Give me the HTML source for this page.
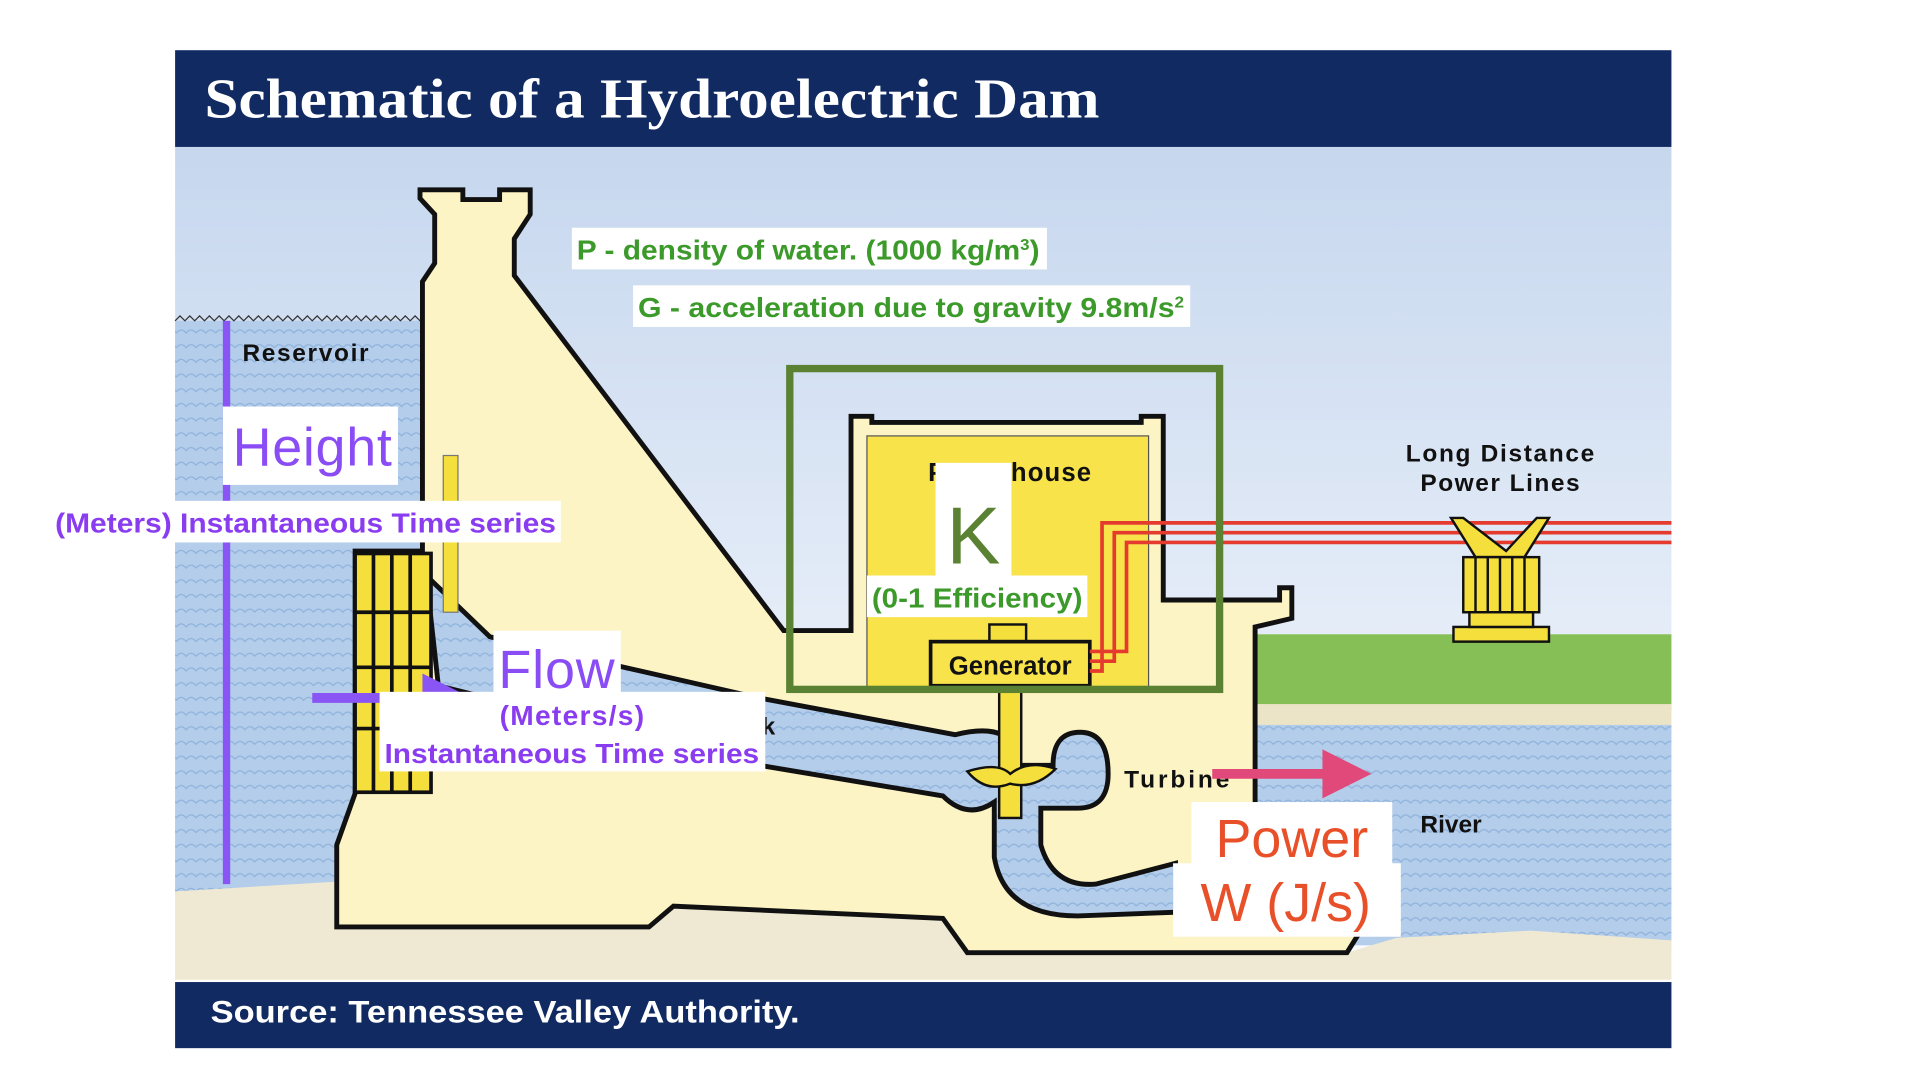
<!DOCTYPE html>
<html><head><meta charset="utf-8"><style>
html,body{margin:0;padding:0;background:#fff;width:1920px;height:1080px;overflow:hidden}
svg{display:block}
.g{font-family:"Liberation Sans",sans-serif;font-weight:bold}
</style></head><body>
<svg width="1920" height="1080" viewBox="0 0 1568 882">
<defs>
<linearGradient id="sky" x1="0" y1="0" x2="0" y2="1"><stop offset="0" stop-color="#c6d7ee"/><stop offset="1" stop-color="#fbfcff"/></linearGradient>
<pattern id="wave" width="16" height="12" patternUnits="userSpaceOnUse"><rect width="16" height="12" fill="#b3cdea"/><path d="M0 8 Q4 3 8 8 Q12 3 16 8" fill="none" stroke="#8fb2dc" stroke-width="1"/></pattern>
</defs>
<rect width="1568" height="882" fill="#fff"/>
<g>
<rect x="143" y="120" width="1222" height="680" fill="url(#sky)"/>
<rect x="143" y="262" width="210" height="470" fill="url(#wave)"/>
<path d="M143 262 l4 -4 l4 4 l4 -4 l4 4 l4 -4 l4 4 l4 -4 l4 4 l4 -4 l4 4 l4 -4 l4 4 l4 -4 l4 4 l4 -4 l4 4 l4 -4 l4 4 l4 -4 l4 4 l4 -4 l4 4 l4 -4 l4 4 l4 -4 l4 4 l4 -4 l4 4 l4 -4 l4 4 l4 -4 l4 4 l4 -4 l4 4 l4 -4 l4 4 l4 -4 l4 4 l4 -4 l4 4 l4 -4 l4 4 l4 -4 l4 4 l4 -4 l4 4 l4 -4 l4 4 l4 -4 l4 4 l4 -4 l4 4 l4 -4 l4 4" fill="none" stroke="#333" stroke-width="1"/>
<rect x="1025" y="518" width="340" height="62" fill="#86bf55"/>
<rect x="1025" y="575" width="340" height="20" fill="#ece4c6"/>
<rect x="1025" y="592" width="340" height="180" fill="url(#wave)"/>
<path d="M143 728 L275 720 L275 757 L530 757 L550 740 L770 750 L790 778 L1100 778 L1140 766 L1250 760 L1365 768 L1365 800 L143 800 Z" fill="#efe9d3"/>
<path d="M343 155 L378 155 L378 163 L408 163 L408 155 L433 155 L433 175 L420 195 L420 225 L640 515 L695 515 L695 340 L712 340 L712 345 L932 345 L932 340 L950 340 L950 490 L1045 490 L1045 480 L1055 480 L1055 505 L1025 512 L1025 762 L1110 762 L1100 778 L790 778 L770 750 L550 740 L530 757 L275 757 L275 690 L290 648 L290 450 L345 450 L345 230 L355 215 L355 175 L343 162 Z" fill="#fcf4c4" stroke="#111" stroke-width="4" stroke-linejoin="miter"/>
<path d="M348 470 L400 520 L620 570 L780 600 Q820 590 830 612 L830 625 L860 625 Q860 598 882 598 Q905 598 905 632 Q905 660 880 660 L850 660 L850 690 Q860 725 895 722 L960 705 L960 745 L880 748 Q820 748 812 700 L812 655 Q790 670 770 650 L620 625 L358 560 Z" fill="url(#wave)" stroke="#111" stroke-width="4"/>
<rect x="708" y="356" width="230" height="205" fill="#f8e34a" stroke="#555" stroke-width="1"/>
<rect x="720" y="372" width="216" height="190" fill="#f8e34a"/>
<rect x="816" y="560" width="18" height="108" fill="#f5df3c" stroke="#111" stroke-width="2"/>
<path d="M790 630 Q815 622 825 632 Q840 620 862 628 Q845 645 825 640 Q805 648 790 630 Z" fill="#f5df3c" stroke="#111" stroke-width="2"/>
<rect x="808" y="510" width="30" height="14" fill="#f5df3c" stroke="#111" stroke-width="2"/>
<rect x="760" y="524" width="130" height="36" fill="#f8e34a" stroke="#111" stroke-width="3"/>
<text x="825" y="551" text-anchor="middle" class="g" font-size="21" fill="#111">Generator</text>
<text x="758" y="393" class="g" font-size="21" fill="#111" textLength="133">Powerhouse</text>
<rect x="362" y="372" width="12" height="128" fill="#f5df3c" stroke="#777"/>
<g fill="none" stroke="#111" stroke-width="3">
<rect x="290" y="452" width="62" height="195" fill="#f5df3c"/>
<path d="M305 452 V647 M320 452 V647 M335 452 V647 M290 500 H352 M290 545 H352 M290 595 H352"/>
</g>
<g stroke="#e53a2e" stroke-width="3" fill="none">
<path d="M890 548 H900 V427 H1365"/><path d="M890 540 H910 V435 H1365"/><path d="M890 532 H920 V443 H1365"/>
</g>
<g stroke="#111" stroke-width="2" fill="#f5df3c">
<path d="M1185 423 L1205 455 L1245 455 L1265 423 L1255 423 L1230 450 L1195 423 Z"/>
<rect x="1195" y="455" width="62" height="45"/>
<path d="M1205 455 V500 M1215 455 V500 M1225 455 V500 M1235 455 V500 M1245 455 V500" fill="none"/>
<rect x="1187" y="512" width="78" height="12"/><rect x="1200" y="500" width="52" height="12"/>
</g>
<text x="1225" y="377" text-anchor="middle" class="g" font-size="20" fill="#111" textLength="154">Long Distance</text>
<text x="1225" y="401" text-anchor="middle" class="g" font-size="20" fill="#111" textLength="130">Power Lines</text>
<text x="198" y="295" class="g" font-size="20" fill="#111" textLength="103">Reservoir</text>
<text x="918" y="643" class="g" font-size="20" fill="#111" textLength="86">Turbine</text>
<text x="1160" y="680" class="g" font-size="20" fill="#111">River</text>
<text x="622" y="600" class="g" font-size="20" fill="#111">k</text>
</g>
<rect x="645" y="301" width="351" height="262" fill="none" stroke="#5a8232" stroke-width="6"/>
<rect x="143" y="41" width="1222" height="79" fill="#112b62"/>
<text x="167" y="96" font-family="Liberation Serif,serif" font-weight="bold" font-size="46" fill="#fff" textLength="731" lengthAdjust="spacingAndGlyphs">Schematic of a Hydroelectric Dam</text>
<rect x="143" y="802" width="1222" height="54" fill="#112b62"/>
<text x="172" y="835" class="g" font-size="26" fill="#fff" textLength="481" lengthAdjust="spacingAndGlyphs">Source: Tennessee Valley Authority.</text>
<line x1="185" y1="262" x2="185" y2="722" stroke="#8a55f5" stroke-width="6"/>
<g>
<rect x="182" y="332" width="143" height="64" fill="#fff"/>
<text x="190" y="380" font-family="Liberation Sans,sans-serif" font-size="44" fill="#8a4cf5" textLength="130">Height</text>
<rect x="40" y="409" width="418" height="34" fill="#fff"/>
<text x="45" y="435" class="g" font-size="23" fill="#8a3cf0" textLength="409" lengthAdjust="spacingAndGlyphs">(Meters) Instantaneous Time series</text>
</g>
<path d="M255 566 H345 V550 L385 570 L345 590 V574 H255 Z" fill="#8a55f5"/>
<g>
<rect x="403" y="515" width="104" height="55" fill="#fff"/>
<text x="407" y="562" font-family="Liberation Sans,sans-serif" font-size="44" fill="#8a4cf5" textLength="95">Flow</text>
<rect x="310" y="565" width="315" height="65" fill="#fff"/>
<text x="467" y="592" text-anchor="middle" class="g" font-size="23" fill="#8a3cf0" textLength="118">(Meters/s)</text>
<text x="467" y="623" text-anchor="middle" class="g" font-size="23" fill="#8a3cf0" textLength="306" lengthAdjust="spacingAndGlyphs">Instantaneous Time series</text>
</g>
<g>
<rect x="467" y="186" width="388" height="34" fill="#fff"/>
<text x="471" y="212" class="g" font-size="23" fill="#3b9a2a" textLength="378" lengthAdjust="spacingAndGlyphs">P - density of water. (1000 kg/m<tspan font-size="13" dy="-8">3</tspan><tspan dy="8">)</tspan></text>
</g>
<g>
<rect x="517" y="233" width="455" height="34" fill="#fff"/>
<text x="521" y="259" class="g" font-size="23" fill="#3b9a2a" textLength="446" lengthAdjust="spacingAndGlyphs">G - acceleration due to gravity 9.8m/s<tspan font-size="13" dy="-8">2</tspan></text>
</g>
<g>
<rect x="764" y="378" width="62" height="95" fill="#fff"/>
<text x="795" y="460" text-anchor="middle" font-family="Liberation Sans,sans-serif" font-size="66" fill="#5a8232">K</text>
<rect x="708" y="470" width="180" height="34" fill="#fff"/>
<text x="712" y="496" class="g" font-size="23" fill="#3b9a2a" textLength="172" lengthAdjust="spacingAndGlyphs">(0-1 Efficiency)</text>
</g>
<path d="M990 628 H1080 V612 L1120 632 L1080 652 V636 H990 Z" fill="#e0497a"/>
<g>
<rect x="973" y="655" width="164" height="55" fill="#fff"/>
<rect x="958" y="705" width="186" height="60" fill="#fff"/>
<text x="1055" y="700" text-anchor="middle" font-family="Liberation Sans,sans-serif" font-size="44" fill="#e8502a">Power</text>
<text x="1050" y="752" text-anchor="middle" font-family="Liberation Sans,sans-serif" font-size="44" fill="#e8502a">W (J/s)</text>
</g>
</svg>
</body></html>
